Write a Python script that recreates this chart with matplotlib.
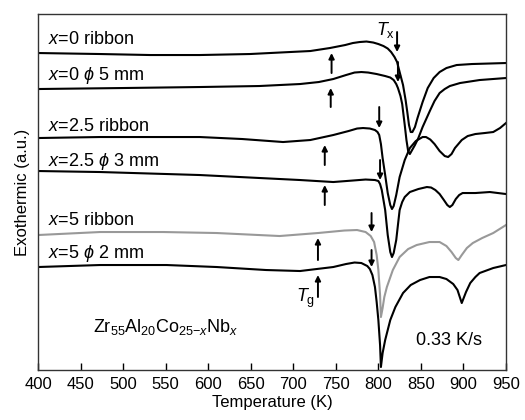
import matplotlib.pyplot as plt

plt.rcParams['font.family'] = ['Liberation Sans', 'DejaVu Sans']
plt.rcParams['mathtext.fontset'] = 'custom'
plt.rcParams['mathtext.rm'] = 'Liberation Sans'
plt.rcParams['mathtext.it'] = 'Liberation Sans:italic'

# --------- DSC traces (temperature in K, signal in a.u.) ----------
t_x0_rib = [400, 473, 532, 590, 649, 696, 720, 743, 761, 770, 778, 786, 794, 800, 806, 811,
            815, 819, 822, 825, 829, 832, 834, 836, 838, 840, 843, 846, 852, 858, 865, 872,
            880, 892, 910, 950]
s_x0_rib = [317, 316, 315, 315, 316, 318, 319, 322, 325, 327, 328, 328.5, 327.5, 326, 324, 321.5,
            318, 313, 308, 298, 285, 270, 258, 245, 238, 238, 243, 252, 268, 282, 292, 298,
            302, 305, 306, 307]

t_x0_5mm = [400, 500, 590, 660, 708, 730, 747, 762, 772, 780, 788, 798, 808, 814, 818, 821,
            823, 826, 828, 831, 833, 835, 837, 839, 843, 847, 852, 861, 866, 872, 878, 884,
            896, 919, 950]
s_x0_5mm = [281, 282, 283, 284, 286, 288, 291, 295, 297.5, 298, 297.5, 296, 294, 292.5, 290, 286,
            282, 274, 266, 245, 230, 219, 216, 219, 225, 232, 243, 260, 269, 277, 281, 284,
            287, 290, 292]

t_x25_rib = [400, 473, 590, 640, 688, 720, 747, 765, 775, 782, 790, 796, 799, 801, 803, 805,
             808, 811, 814, 816, 818, 821, 825, 831, 837, 844, 852, 856, 861, 866, 872, 878,
             882, 886, 890, 898, 905, 914, 925, 935, 943, 950]
s_x25_rib = [232, 233, 233, 231, 228, 230, 235, 239, 241.5, 242, 241.5, 240, 238, 235, 226, 212,
             195, 177, 165, 161, 164, 175, 193, 210, 222, 229, 233, 233, 230.5, 226, 219, 214,
             213, 216, 222, 230, 234, 236, 237, 238, 242, 247]

t_x25_3mm = [400, 473, 590, 708, 747, 770, 785, 796, 800, 802, 804, 806, 808, 811, 814, 816,
             818, 821, 823, 825, 828, 831, 837, 847, 857, 862, 867, 872, 877, 881, 884, 887,
             891, 895, 899, 914, 931, 950]
s_x25_3mm = [199, 198, 195, 190, 188, 189.5, 190.5, 190, 189, 186, 180, 170, 160, 135, 118, 113,
             117, 130, 145, 160, 168, 173, 178, 181, 183, 182.5, 180, 176, 170, 165, 163, 165,
             171, 175, 177, 177, 178, 176]

t_x5_rib = [400, 473, 547, 610, 684, 729, 760, 775, 785, 791, 795, 798, 800, 802, 803, 805,
            807, 810, 817, 825, 835, 845, 860, 872, 880, 886, 891, 894, 898, 904, 911, 922,
            935, 950]
s_x5_rib = [135, 138, 138, 137, 134, 137, 139.5, 140, 138, 134, 128, 115, 100, 75, 53, 62,
            73, 83, 100, 113, 121, 125, 128, 128, 124, 118, 112, 110, 115, 122, 127, 132,
            137, 145]

t_x5_2mm = [400, 473, 551, 610, 668, 708, 747, 762, 772, 780, 787, 790, 793, 796, 798, 800,
            802, 803, 805, 808, 814, 820, 829, 838, 849, 860, 872, 880, 888, 893, 898, 903,
            908, 914, 919, 935, 950]
s_x5_2mm = [103, 105, 105, 103, 100, 99, 103, 106, 107.5, 107, 104, 101, 95, 83, 68, 50,
            25, 3, 17, 30, 50, 63, 77, 85, 90, 93, 93, 91, 86, 80, 67, 78,
            87, 93, 97, 102, 105]

curve_labels = [r'$x$=0 ribbon', r'$x$=0 $\phi$ 5 mm', r'$x$=2.5 ribbon',
                r'$x$=2.5 $\phi$ 3 mm', r'$x$=5 ribbon', r'$x$=5 $\phi$ 2 mm']
label_y = [331, 295, 244, 209, 150, 117]

# Tg arrows (pointing up) and Tx arrows (pointing down): T, tip, tail
tg_t = [745, 744, 737, 737, 729, 729]
tg_tip = [317, 282, 225, 185, 132, 95]
tg_tail = [297, 263, 205, 165, 110, 73]
tx_t = [822, 823, 801, 802, 792, 792]
tx_tip = [318, 288, 242, 190, 138, 103]
tx_tail = [338, 308, 263, 210, 157, 120]

fig = plt.figure(figsize=(5.25, 4.2), dpi=100)
ax = fig.add_axes([0.0724, 0.119, 0.8914, 0.8476])

lw = 1.5
ax.plot(t_x0_rib, s_x0_rib, color='black', lw=lw)
ax.plot(t_x0_5mm, s_x0_5mm, color='black', lw=lw)
ax.plot(t_x25_rib, s_x25_rib, color='black', lw=lw)
ax.plot(t_x25_3mm, s_x25_3mm, color='black', lw=lw)
ax.plot(t_x5_rib, s_x5_rib, color='#999999', lw=lw)
ax.plot(t_x5_2mm, s_x5_2mm, color='black', lw=lw)

for lab, y in zip(curve_labels, label_y):
    ax.text(412, y, lab, fontsize=13, va='center', ha='left')

arrow_kw = dict(arrowstyle='-|>', color='black', lw=1.4, mutation_scale=8,
                shrinkA=0, shrinkB=0)
for t, tip, tail in zip(tg_t, tg_tip, tg_tail):
    ax.annotate('', xy=(t, tip), xytext=(t, tail), arrowprops=arrow_kw)
for t, tip, tail in zip(tx_t, tx_tip, tx_tail):
    ax.annotate('', xy=(t, tip), xytext=(t, tail), arrowprops=arrow_kw)

ax.text(808, 340, r'$T_{\mathrm{x}}$', fontsize=13, ha='center', va='center')
ax.text(714, 72, r'$T_{\mathrm{g}}$', fontsize=13, ha='center', va='center')
ax.text(550, 43, r'Zr$_{55}$Al$_{20}$Co$_{25\mathrm{-}x}$Nb$_{x}$', fontsize=13,
        ha='center', va='center')
ax.text(883, 30, '0.33 K/s', fontsize=13, ha='center', va='center')

ax.set_xlim(400, 950)
ax.set_ylim(0, 356)
ax.set_xticks(range(400, 951, 50))
ax.set_yticks([])
ax.tick_params(axis='x', direction='in', length=5, width=1, labelsize=12, pad=5)
for sp in ax.spines.values():
    sp.set_linewidth(1.0)
    sp.set_color('#333333')
ax.set_xlabel('Temperature (K)', fontsize=12, labelpad=2)
ax.set_ylabel('Exothermic (a.u.)', fontsize=12, labelpad=6)

fig.savefig('out.png', dpi=100)
